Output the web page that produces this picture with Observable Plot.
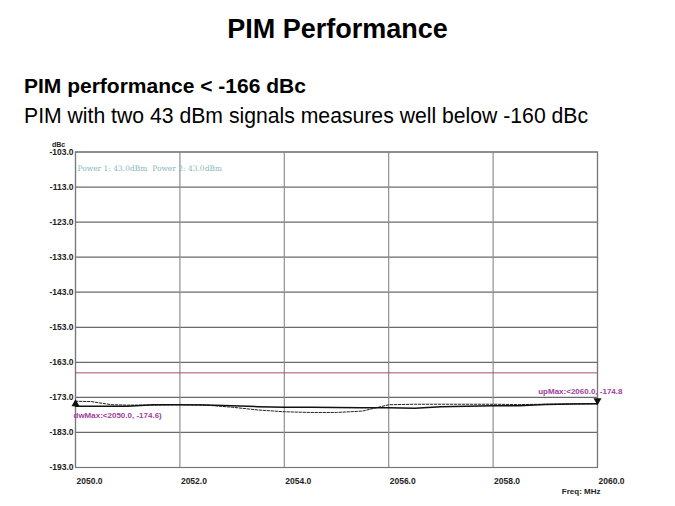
<!DOCTYPE html>
<html>
<head>
<meta charset="utf-8">
<script src="https://cdn.jsdelivr.net/npm/d3@7"></script>
<script src="https://cdn.jsdelivr.net/npm/@observablehq/plot@0.6"></script>
<style>
  html, body { margin: 0; padding: 0; background: #fff; }
  body { width: 675px; height: 506px; position: relative; overflow: hidden; font-family: "Liberation Sans", Arial, sans-serif; }
  #title { position: absolute; left: 0; width: 675px; top: 14px; text-align: center; font-weight: bold; font-size: 27px; color: #000; line-height: 1.15; }
  #sub1 { position: absolute; left: 24px; top: 74px; font-weight: bold; font-size: 21px; color: #000; line-height: 1.15; }
  #sub2 { position: absolute; left: 24px; top: 104px; font-size: 21.2px; color: #000; line-height: 1.15; }
  #chart { position: absolute; left: 0; top: 138px; }
</style>
</head>
<body>
<div id="title">PIM Performance</div>
<div id="sub1">PIM performance &lt; -166 dBc</div>
<div id="sub2">PIM with two 43 dBm signals measures well below -160 dBc</div>
<div id="chart"></div>
<script>
// Frequency (MHz) and measured PIM (dBc)
const freq = [2050.0, 2050.3, 2050.7, 2051.0, 2051.5, 2052.0, 2052.5, 2053.0, 2053.5, 2054.0, 2054.5, 2055.0, 2055.5, 2056.0, 2056.5, 2057.0, 2057.5, 2058.0, 2058.5, 2059.0, 2059.5, 2060.0];
const pimUp = [-175.5, -175.5, -175.5, -175.5, -175.1, -175.1, -175.2, -175.35, -175.65, -175.8, -175.8, -175.9, -175.95, -175.95, -176.1, -175.7, -175.5, -175.4, -175.35, -175.0, -174.9, -174.8];
const pimDw = [-174.1, -174.2, -175.1, -175.2, -175.2, -175.1, -175.2, -175.8, -176.6, -177.1, -177.3, -177.3, -176.9, -175.1, -174.95, -174.95, -174.95, -174.95, -175.05, -174.95, -174.85, -174.8];
const specLimit = [-166];
const xTicks = [2050, 2052, 2054, 2056, 2058, 2060];
const yTicks = [-103, -113, -123, -133, -143, -153, -163, -173, -183, -193];
const markerLabels = ["dwMax:<2050.0, -174.6)", "upMax:<2060.0, -174.8"];
const markerX = [2050.0, 2060.0];
const markerY = [-174.6, -174.8];
const powerNote = ["Power 1: 43.0dBm  Power 2: 43.0dBm"];

const upData = freq.map((f, i) => ({f, v: pimUp[i]}));
const dwData = freq.map((f, i) => ({f, v: pimDw[i]}));

const chart = Plot.plot({
  width: 675,
  height: 368,
  marginLeft: 75,
  marginRight: 78,
  marginTop: 13.5,
  marginBottom: 39,
  style: {fontFamily: "'Liberation Sans', Arial, sans-serif", background: "transparent"},
  x: {domain: [2050, 2060], label: null, ticks: xTicks, tickSize: 0, tickPadding: 9, tickFormat: d => d.toFixed(1)},
  y: {domain: [-193, -103], label: null, ticks: yTicks, tickSize: 0, tickPadding: 3, tickFormat: d => d.toFixed(1)},
  marks: [
    Plot.ruleY(yTicks, {stroke: "#6a6a6a", strokeWidth: 1.2}),
    Plot.ruleX(xTicks, {stroke: "#909090", strokeWidth: 1.2}),
    Plot.frame({stroke: "#777", strokeWidth: 1.2}),
    Plot.ruleY(specLimit, {stroke: "#a8506a", strokeWidth: 1}),
    Plot.line(dwData, {x: "f", y: "v", stroke: "#222", strokeWidth: 1, strokeDasharray: "2.5,1.5"}),
    Plot.line(upData, {x: "f", y: "v", stroke: "#111", strokeWidth: 1.5}),
    Plot.axisX({ticks: xTicks, tickSize: 0, tickPadding: 10, textAnchor: "start", dx: 1, fontSize: 8.5, fontWeight: "bold", tickFormat: d => d.toFixed(1), fill: "#222"}),
    Plot.axisY({ticks: yTicks, tickSize: 0, tickPadding: 2, fontSize: 8.5, fontWeight: "bold", tickFormat: d => d.toFixed(1), fill: "#222"}),
    Plot.dot([0], {x: () => markerX[0], y: () => markerY[0], symbol: "triangle", r: 3, fill: "#111", dy: 1}),
    Plot.dot([1], {x: () => markerX[1], y: () => markerY[1], symbol: "triangle", r: 3, fill: "#111", dy: -3, rotate: 180}),
    Plot.text([0], {x: () => markerX[0], y: () => markerY[0], text: () => markerLabels[0], textAnchor: "start", dx: -2, dy: 12, fontSize: 8, fontWeight: "bold", fill: "#a0409a"}),
    Plot.text([1], {x: () => markerX[1], y: () => markerY[1], text: () => markerLabels[1], textAnchor: "end", dx: 25, dy: -12, fontSize: 8, fontWeight: "bold", fill: "#a0409a"}),
    Plot.text(powerNote, {frameAnchor: "top-left", text: d => d, dx: 2, dy: 14, fontSize: 7.5, fill: "#86b8b8", fontFamily: "'DejaVu Serif', serif"}),
    Plot.text(["dBc"], {frameAnchor: "top-left", text: d => d, textAnchor: "middle", dx: -17, dy: -10, fontSize: 7, fontWeight: "bold", fill: "#222"}),
    Plot.text(["Freq: MHz"], {frameAnchor: "bottom-right", text: d => d, textAnchor: "end", dx: 3, dy: 26, fontSize: 8, fontWeight: "bold", fill: "#222"})
  ]
});
document.getElementById("chart").appendChild(chart);
</script>
</body>
</html>
